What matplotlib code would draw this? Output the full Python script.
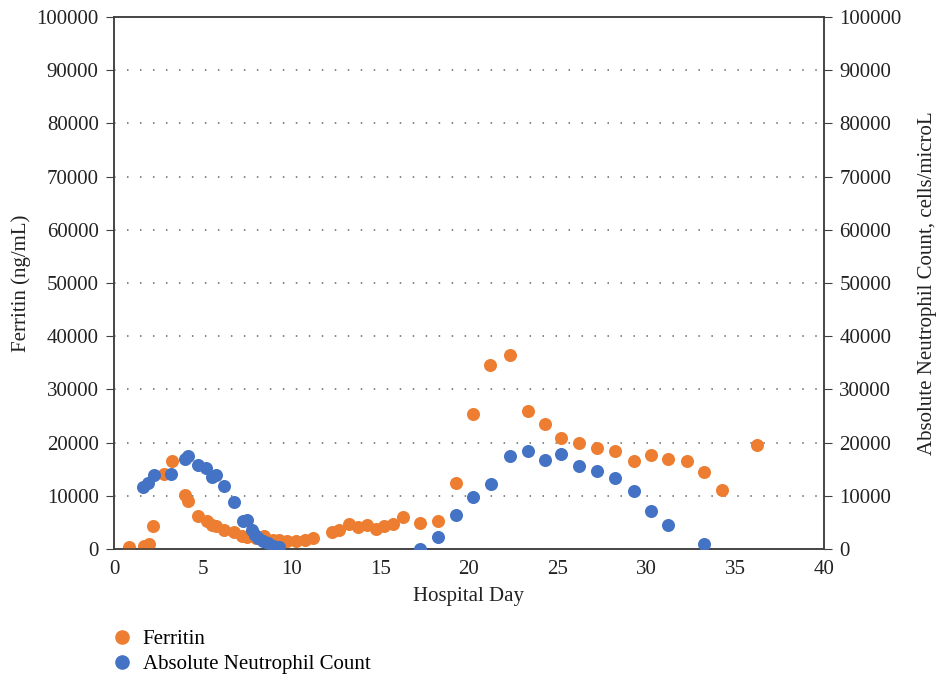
import numpy as np
import matplotlib
matplotlib.use('Agg')
import matplotlib.pyplot as plt
from matplotlib.lines import Line2D

plt.rcParams['font.family'] = ['Liberation Serif', 'DejaVu Serif']

# Ferritin (ng/mL) by hospital day
ferritin_day = [0.85, 1.71, 1.97, 2.21, 2.83, 3.27, 4.02, 4.19, 4.72, 5.22, 5.50, 5.76,
                6.21, 6.76, 7.23, 7.51, 8.00, 8.45, 8.97, 9.30, 9.73, 10.24, 10.76, 11.23,
                12.30, 12.69, 13.22, 13.73, 14.24, 14.74, 15.23, 15.74, 16.26, 17.26, 18.27,
                19.27, 20.21, 21.20, 22.29, 23.31, 24.30, 25.18, 26.21, 27.21, 28.24, 29.30,
                30.24, 31.24, 32.26, 33.26, 34.27, 36.23]
ferritin = [400, 620, 940, 4380, 14100, 16600, 10150, 9020, 6260, 5260, 4510, 4320,
            3520, 3140, 2440, 2310, 2070, 2440, 1750, 1690, 1500, 1450, 1690, 2070,
            3140, 3630, 4760, 4080, 4570, 3820, 4380, 4760, 5960, 4950, 5320,
            12460, 25430, 34530, 36530, 26000, 23440, 20930, 19920, 18980, 18360, 16600,
            17730, 16980, 16600, 14420, 11090, 19550]

# Absolute neutrophil count (cells/microL) by hospital day
anc_day = [1.65, 1.90, 2.23, 3.23, 4.02, 4.19, 4.72, 5.20, 5.52, 5.73, 6.21, 6.76,
           7.25, 7.48, 7.76, 7.94, 8.13, 8.41, 8.69, 8.97, 9.30,
           17.26, 18.27, 19.27, 20.23, 21.22, 22.29, 23.31, 24.30, 25.18, 26.21, 27.21,
           28.21, 29.30, 30.24, 31.24, 33.26]
anc = [11710, 12340, 13850, 14150, 16970, 17540, 15730, 15230, 13480, 13970, 11840, 8830,
       5260, 5390, 3510, 2630, 2010, 1500, 1070, 620, 320,
       0, 2190, 6330, 9710, 12280, 17540, 18360, 16790, 17790, 15600, 14660,
       13290, 10840, 7080, 4510, 880]

yticks = np.arange(0, 100001, 10000)
orange = '#ED7D31'
blue = '#4472C4'
spine_col = '#404040'
text_col = '#222222'
fs = 15

fig = plt.figure(figsize=(9.36, 6.8), dpi=100)
ax = fig.add_axes([0.1218, 0.1926, 0.7585, 0.7824])
ax2 = ax.twinx()

ax.scatter(ferritin_day, ferritin, s=88, color=orange, linewidths=0, zorder=3)
ax2.scatter(anc_day, anc, s=88, color=blue, linewidths=0, zorder=3)

for a in (ax, ax2):
    a.set_ylim(0, 100000)
    a.set_yticks(yticks)
    a.set_yticklabels([str(v) for v in yticks])
    for s in a.spines.values():
        s.set_color(spine_col)
        s.set_linewidth(1.1)
    a.tick_params(axis='y', direction='out', length=6, color=spine_col,
                  labelsize=fs, pad=5, labelcolor=text_col)

ax.set_xlim(0, 40)
ax.set_xticks(np.arange(0, 41, 5))
ax.tick_params(axis='x', length=0, labelsize=fs, pad=8, labelcolor=text_col)

for v in yticks:
    ax.axhline(v, color='#666666', linewidth=1.1, linestyle=(0, (1, 7.5)), zorder=1)

ax.set_xlabel('Hospital Day', fontsize=fs, color=text_col, labelpad=6)
ax.set_ylabel('Ferritin (ng/mL)', fontsize=fs, color=text_col, labelpad=4)
ax2.set_ylabel('Absolute Neutrophil Count, cells/microL', fontsize=fs, color=text_col,
               labelpad=12)

handles = [Line2D([], [], marker='o', linestyle='none', color=orange, markersize=9.5),
           Line2D([], [], marker='o', linestyle='none', color=blue, markersize=9.5)]
fig.legend(handles, ['Ferritin', 'Absolute Neutrophil Count'], loc='upper left',
           bbox_to_anchor=(0.108, 0.086), frameon=False, fontsize=fs,
           handletextpad=0.4, labelspacing=0.25, borderaxespad=0, handlelength=1.2)

fig.savefig('out.png', dpi=100)
